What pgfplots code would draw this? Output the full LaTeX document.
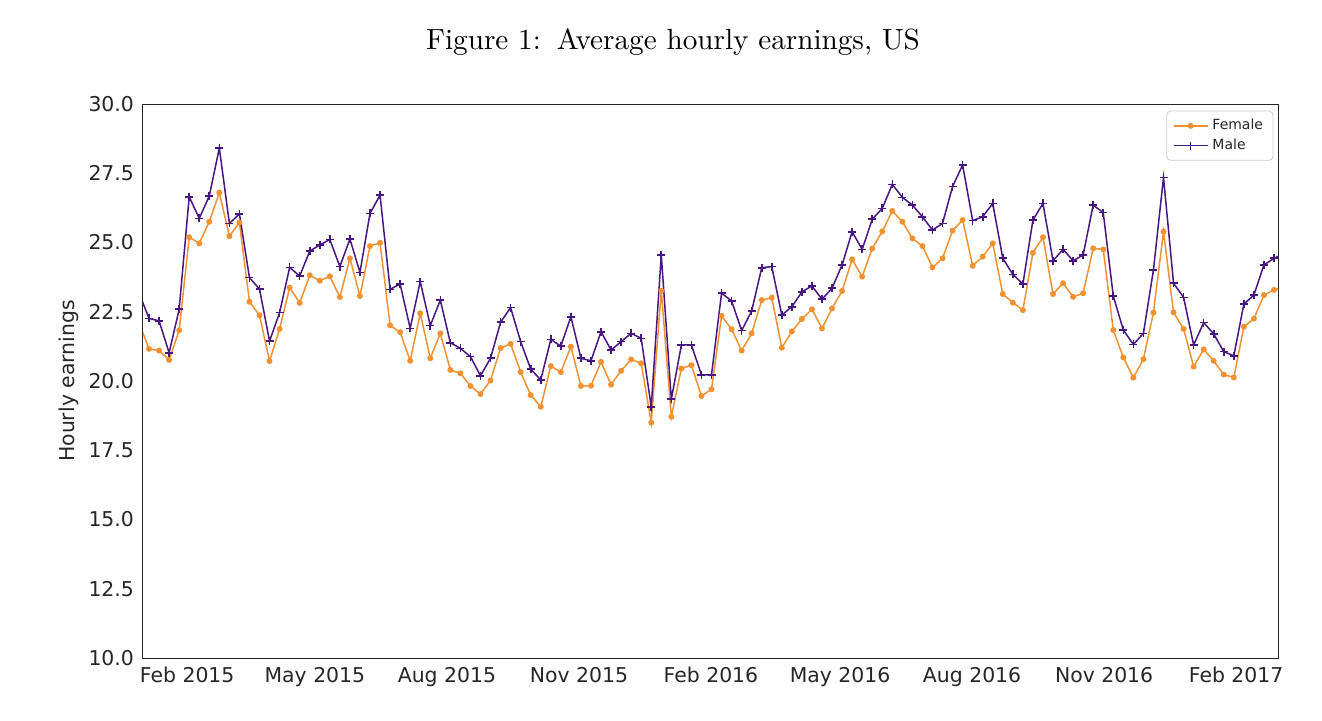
\documentclass[border=0pt]{standalone}
\usepackage{pgfplots}
\pgfplotsset{compat=1.18}
\usepackage{pgfplotstable}
\usepackage{fontspec}
\setmainfont{DejaVu Sans}
\newfontfamily\titlefont{lmroman10-regular}[Extension=.otf]
\definecolor{forange}{RGB}{241,146,50}
\definecolor{mpurple}{RGB}{72,22,130}
\definecolor{txtgray}{RGB}{38,38,38}
\pgfplotstableread{
k female male
0 22.10 23.18
1 21.16 22.26
2 21.10 22.17
3 20.76 21.02
4 21.83 22.59
5 25.19 26.65
6 24.97 25.87
7 25.75 26.68
8 26.80 28.41
9 25.23 25.69
10 25.72 26.03
11 22.86 23.73
12 22.37 23.32
13 20.72 21.44
14 21.88 22.47
15 23.37 24.10
16 22.82 23.79
17 23.82 24.69
18 23.62 24.91
19 23.78 25.11
20 23.03 24.13
21 24.43 25.13
22 23.07 23.92
23 24.87 26.05
24 24.99 26.71
25 22.01 23.31
26 21.76 23.50
27 20.73 21.90
28 22.44 23.59
29 20.82 22.00
30 21.72 22.92
31 20.40 21.38
32 20.28 21.18
33 19.82 20.88
34 19.53 20.19
35 20.02 20.82
36 21.19 22.12
37 21.34 22.65
38 20.32 21.42
39 19.49 20.43
40 19.07 20.04
41 20.54 21.50
42 20.32 21.26
43 21.24 22.32
44 19.82 20.82
45 19.83 20.73
46 20.69 21.78
47 19.87 21.12
48 20.37 21.42
49 20.78 21.72
50 20.64 21.54
51 18.50 19.07
52 23.26 24.55
53 18.71 19.34
54 20.45 21.30
55 20.57 21.30
56 19.46 20.22
57 19.70 20.22
58 22.35 23.17
59 21.87 22.89
60 21.10 21.82
61 21.72 22.53
62 22.92 24.09
63 23.01 24.13
64 21.20 22.38
65 21.79 22.68
66 22.24 23.22
67 22.59 23.43
68 21.90 22.95
69 22.62 23.35
70 23.25 24.19
71 24.39 25.39
72 23.77 24.75
73 24.78 25.84
74 25.40 26.23
75 26.14 27.10
76 25.75 26.63
77 25.15 26.35
78 24.87 25.93
79 24.10 25.45
80 24.43 25.69
81 25.43 27.02
82 25.81 27.80
83 24.16 25.79
84 24.49 25.93
85 24.97 26.41
86 23.14 24.43
87 22.83 23.85
88 22.56 23.50
89 24.63 25.81
90 25.19 26.41
91 23.14 24.34
92 23.53 24.75
93 23.04 24.34
94 23.17 24.55
95 24.79 26.35
96 24.75 26.08
97 21.84 23.07
98 20.85 21.84
99 20.12 21.32
100 20.79 21.72
101 22.47 24.01
102 25.39 27.35
103 22.48 23.53
104 21.88 23.02
105 20.52 21.30
106 21.14 22.11
107 20.73 21.70
108 20.23 21.06
109 20.13 20.91
110 21.96 22.78
111 22.25 23.10
112 23.10 24.19
113 23.29 24.43
114 23.40 24.60
}\datatable
\begin{document}
\begin{tikzpicture}
\useasboundingbox (-71.5pt,-31pt) rectangle (589.5pt,329pt);
\begin{axis}[
  at={(0pt,0pt)}, anchor=south west,
  scale only axis, width=567.5pt, height=277pt,
  xmin=0.4, xmax=113.4, ymin=10, ymax=30,
  clip=true,
  axis line style={draw=txtgray, line width=0.5pt},
  tick style={draw=none},
  major tick length=0pt,
  xtick={5,17.714,30.857,44,57.143,70,83.143,96.286,109.43},
  xticklabels={Feb 2015,May 2015,Aug 2015,Nov 2015,Feb 2016,May 2016,Aug 2016,Nov 2016,Feb 2017},
  ytick={10,12.5,15,17.5,20,22.5,25,27.5,30},
  yticklabel style={/pgf/number format/fixed, /pgf/number format/fixed zerofill, /pgf/number format/precision=1},
  /pgf/number format/assume math mode=true,
  ticklabel style={font=\fontsize{10.2}{12}\selectfont, text=txtgray},
  xticklabel style={yshift=-1pt, xshift=-1pt},
  yticklabel style={xshift=-1pt},
  ylabel={Hourly earnings},
  ylabel style={font=\fontsize{10.2}{12}\selectfont, text=txtgray, yshift=-2pt},
  legend style={at={(0.996,0.988)}, anchor=north east, font=\fontsize{7}{8.4}\selectfont,
    draw=black!20, rounded corners=2pt, text=txtgray, inner xsep=3pt, inner ysep=2pt,
    row sep=-1pt},
  legend cell align=left,
]
\addplot[color=forange, line width=0.75pt, mark=*, mark size=1.1pt, mark options={fill=forange, draw=forange}] table[x=k, y=female] {\datatable};
\addlegendentry{Female}
\addplot[color=mpurple, line width=0.75pt, mark=+, mark size=2.0pt, mark options={line width=0.8pt}] table[x=k, y=male] {\datatable};
\addlegendentry{Male}
\end{axis}
\node[font=\titlefont\fontsize{14.6}{17}\selectfont, text=black] at (265pt,308pt) {Figure 1:\hspace{0.55em}Average hourly earnings, US};
\end{tikzpicture}
\end{document}
